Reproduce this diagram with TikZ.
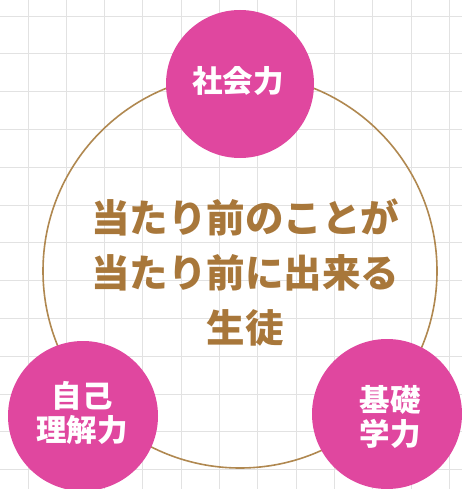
\documentclass[tikz,border=0pt]{standalone}
\usepackage{fontspec}
\newfontfamily\cjk{Noto Sans CJK JP}
\definecolor{gridgray}{HTML}{E2E2E2}
\definecolor{ringbrown}{HTML}{B08850}
\definecolor{textbrown}{HTML}{A8773A}
\definecolor{magentafill}{HTML}{E0479F}
\tikzset{
  gridline/.style={draw=gridgray, line width=0.9pt},
  ring/.style={draw=ringbrown, line width=1.6pt},
  bubble/.style={circle, fill=magentafill, minimum size=#1, inner sep=0pt},
  bubbletext/.style={text=white, align=center, font=\cjk\bfseries\fontsize{30.5}{34}\selectfont},
  maintext/.style={text=textbrown, align=center, font=\cjk\bfseries\fontsize{38.5}{55}\selectfont}
}
\begin{document}
\begin{tikzpicture}[x=1pt,y=-1pt]
\useasboundingbox (0,0) rectangle (462,489);
\fill[white] (0,0) rectangle (462,489);
% grid
\foreach \i in {0,...,11} \draw[gridline] ({28+38.3*\i},0) -- ({28+38.3*\i},489);
\foreach \j in {0,...,12} \draw[gridline] (0,{16+37.8*\j}) -- (462,{16+37.8*\j});
% big ring
\node[circle, ring, minimum size=394pt, inner sep=0pt] (ring) at (240,271) {};
% bubbles
\node[bubble=148pt] (top) at (240,84) {};
\node[bubble=150pt] (left) at (83,416) {};
\node[bubble=150pt] (right) at (387,414) {};
% texts
\node[bubbletext] (toptext) at (238,81) {社会力};
\node[bubbletext] (lefttext) at (82,413) {自己\\理解力};
\node[bubbletext] (righttext) at (390,417) {基礎\\学力};
\node[maintext] (center) at (245,273) {当たり前のことが\\当たり前に出来る\\生徒};
\end{tikzpicture}
\end{document}
